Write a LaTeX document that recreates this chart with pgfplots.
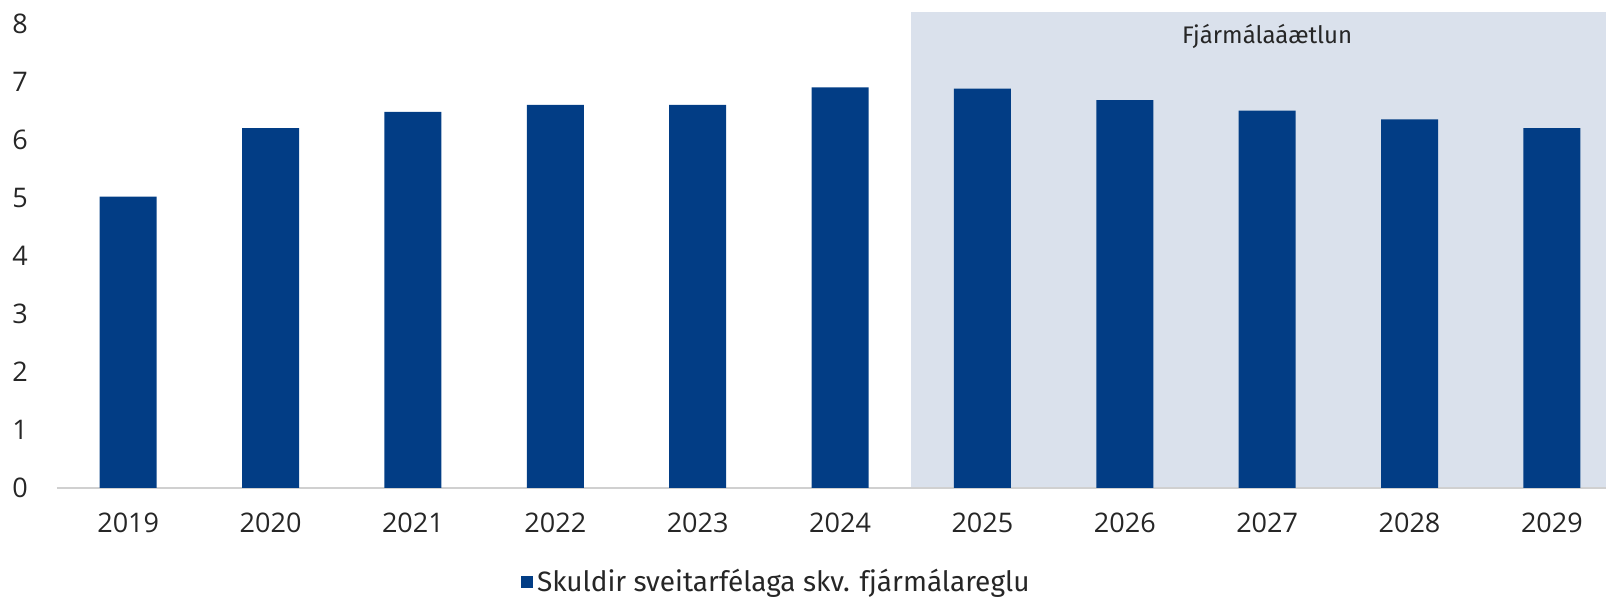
\documentclass[border=0pt]{standalone}
\usepackage{fontspec}
\setmainfont{Open Sans}
\newfontfamily\fira{Fira Sans}
\usepackage{pgfplots}
\pgfplotsset{compat=1.18}
\definecolor{barblue}{HTML}{023D85}
\definecolor{shade}{HTML}{DAE1EC}
\definecolor{basegray}{HTML}{D0D0D0}
\begin{document}
\begin{tikzpicture}
\begin{axis}[
  at={(28.5pt,55.5pt)}, anchor=south west,
  scale only axis, width=774.5pt, height=238pt,
  xmin=-0.5, xmax=10.38, ymin=0, ymax=8.2,
  axis line style={draw=none}, tick style={draw=none},
  xtick={0,...,10},
  xticklabels={2019,2020,2021,2022,2023,2024,2025,2026,2027,2028,2029},
  ytick={0,...,8},
  /pgf/number format/assume math mode=true,
  tick label style={font=\fontsize{13.5}{16}\selectfont, text=black!85},
  xticklabel style={yshift=-9pt},
  yticklabel style={xshift=-11pt},
  legend style={at={(0.465,-0.198)}, anchor=center, draw=none, fill=none,
    font=\fira\fontsize{14}{16}\selectfont, text=black!85,
    legend image code/.code={\fill[barblue] (0pt,-3pt) rectangle (6pt,3pt);}},
  clip=false,
]
\addplot[fill=shade, draw=none, forget plot] coordinates {(5.5,8.2) (10.38,8.2)} \closedcycle;
\draw[basegray, line width=1pt] (axis cs:-0.5,0) -- (axis cs:10.38,0);
\addplot[ybar, bar width=28.5pt, fill=barblue, draw=none] coordinates {
(0,5.02) (1,6.2) (2,6.48) (3,6.6) (4,6.6) (5,6.9) (6,6.88) (7,6.68) (8,6.5) (9,6.35) (10,6.2)};
\addlegendentry{Skuldir sveitarfélaga skv. fjármálareglu}
\node[font=\fira\fontsize{12}{14}\selectfont, text=black!85] at (axis cs:8,7.78) {Fjármálaáætlun};
\end{axis}
\pgfresetboundingbox
\path (0,0) rectangle (803pt,299.5pt);
\end{tikzpicture}
\end{document}
